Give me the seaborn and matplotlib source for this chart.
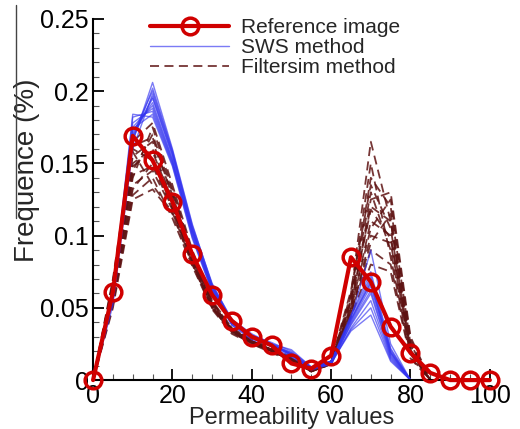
import numpy as np
import pandas as pd
import matplotlib
matplotlib.use("Agg")
import matplotlib.pyplot as plt
from matplotlib.lines import Line2D
from matplotlib.ticker import MultipleLocator
import seaborn as sns

# ---------------- data ----------------
x_vals = [0, 5, 10, 15, 20, 25, 30, 35, 40, 45, 50, 55, 60, 65, 70, 75, 80, 85, 90, 95, 100]

reference = [0, 0.061, 0.169, 0.152, 0.1235, 0.087, 0.059, 0.041, 0.030, 0.024,
             0.0115, 0.008, 0.017, 0.085, 0.068, 0.037, 0.019, 0.005, 0, 0, 0]

# SWS realisations (x = 0..80)
sws_runs = [
    [0, 0.058, 0.165, 0.206, 0.160, 0.108, 0.066, 0.040, 0.030, 0.024, 0.018, 0.008, 0.012, 0.042, 0.070, 0.020, 0],
    [0, 0.060, 0.170, 0.200, 0.158, 0.105, 0.064, 0.040, 0.031, 0.025, 0.017, 0.009, 0.013, 0.045, 0.075, 0.022, 0],
    [0, 0.055, 0.168, 0.195, 0.155, 0.103, 0.063, 0.038, 0.029, 0.024, 0.019, 0.008, 0.011, 0.040, 0.065, 0.018, 0],
    [0, 0.062, 0.175, 0.190, 0.152, 0.100, 0.062, 0.039, 0.030, 0.023, 0.016, 0.008, 0.012, 0.043, 0.090, 0.025, 0],
    [0, 0.057, 0.182, 0.186, 0.150, 0.102, 0.065, 0.041, 0.031, 0.026, 0.020, 0.009, 0.013, 0.038, 0.060, 0.016, 0],
    [0, 0.060, 0.184, 0.182, 0.148, 0.098, 0.061, 0.038, 0.028, 0.024, 0.018, 0.007, 0.011, 0.036, 0.055, 0.015, 0],
    [0, 0.052, 0.160, 0.198, 0.157, 0.106, 0.066, 0.042, 0.032, 0.025, 0.017, 0.008, 0.012, 0.035, 0.050, 0.014, 0],
    [0, 0.058, 0.172, 0.192, 0.153, 0.101, 0.063, 0.039, 0.030, 0.024, 0.018, 0.008, 0.012, 0.034, 0.045, 0.013, 0],
    [0, 0.061, 0.178, 0.188, 0.151, 0.104, 0.064, 0.040, 0.029, 0.025, 0.021, 0.009, 0.013, 0.041, 0.068, 0.019, 0],
    [0, 0.056, 0.166, 0.202, 0.159, 0.107, 0.067, 0.041, 0.031, 0.025, 0.018, 0.008, 0.012, 0.044, 0.072, 0.021, 0],
    [0, 0.059, 0.174, 0.184, 0.149, 0.099, 0.062, 0.039, 0.030, 0.024, 0.017, 0.008, 0.011, 0.039, 0.062, 0.017, 0],
    [0, 0.057, 0.169, 0.196, 0.156, 0.104, 0.065, 0.040, 0.030, 0.025, 0.019, 0.009, 0.013, 0.042, 0.067, 0.019, 0],
]

# Filtersim realisations (x = 0..85)
filtersim_runs = [
    [0, 0.050, 0.125, 0.132, 0.115, 0.080, 0.050, 0.033, 0.026, 0.020, 0.014, 0.006, 0.012, 0.060, 0.165, 0.110, 0.020, 0],
    [0, 0.065, 0.150, 0.160, 0.125, 0.085, 0.052, 0.035, 0.027, 0.021, 0.015, 0.007, 0.012, 0.055, 0.140, 0.120, 0.025, 0],
    [0, 0.070, 0.165, 0.178, 0.135, 0.090, 0.055, 0.036, 0.028, 0.022, 0.016, 0.007, 0.013, 0.050, 0.125, 0.130, 0.030, 0],
    [0, 0.055, 0.135, 0.145, 0.118, 0.082, 0.050, 0.034, 0.026, 0.020, 0.014, 0.006, 0.011, 0.048, 0.110, 0.100, 0.022, 0],
    [0, 0.060, 0.145, 0.170, 0.130, 0.087, 0.054, 0.036, 0.027, 0.021, 0.015, 0.007, 0.012, 0.045, 0.100, 0.095, 0.020, 0],
    [0, 0.068, 0.160, 0.152, 0.120, 0.083, 0.051, 0.034, 0.026, 0.020, 0.014, 0.006, 0.012, 0.058, 0.150, 0.085, 0.018, 0],
    [0, 0.052, 0.128, 0.140, 0.112, 0.079, 0.049, 0.032, 0.025, 0.019, 0.013, 0.006, 0.011, 0.052, 0.120, 0.110, 0.024, 0],
    [0, 0.063, 0.155, 0.165, 0.128, 0.086, 0.053, 0.035, 0.027, 0.021, 0.015, 0.007, 0.012, 0.046, 0.090, 0.080, 0.016, 0],
    [0, 0.058, 0.140, 0.175, 0.132, 0.088, 0.054, 0.035, 0.027, 0.021, 0.015, 0.007, 0.013, 0.062, 0.135, 0.105, 0.021, 0],
    [0, 0.066, 0.158, 0.135, 0.116, 0.081, 0.050, 0.033, 0.025, 0.020, 0.014, 0.006, 0.011, 0.044, 0.080, 0.075, 0.015, 0],
    [0, 0.061, 0.148, 0.158, 0.124, 0.084, 0.052, 0.034, 0.026, 0.020, 0.014, 0.006, 0.012, 0.050, 0.105, 0.125, 0.028, 0],
    [0, 0.054, 0.132, 0.150, 0.121, 0.083, 0.051, 0.034, 0.026, 0.020, 0.014, 0.007, 0.012, 0.056, 0.130, 0.090, 0.019, 0],
    [0, 0.067, 0.162, 0.168, 0.127, 0.086, 0.053, 0.035, 0.027, 0.021, 0.015, 0.007, 0.013, 0.047, 0.095, 0.115, 0.026, 0],
    [0, 0.059, 0.142, 0.148, 0.119, 0.082, 0.051, 0.033, 0.026, 0.020, 0.014, 0.006, 0.012, 0.054, 0.118, 0.098, 0.020, 0],
]

x_ticks = [0, 20, 40, 60, 80, 100]
y_ticks = [0, 0.05, 0.1, 0.15, 0.2, 0.25]
y_tick_labels = ["0", "0.05", "0.1", "0.15", "0.2", "0.25"]

# ---------------- long-form tables ----------------
def to_long(runs):
    rows = []
    for i, r in enumerate(runs):
        for xv, yv in zip(x_vals, r):
            rows.append({"x": xv, "y": yv, "run": i})
    return pd.DataFrame(rows)

df_sws = to_long(sws_runs)
df_fs = to_long(filtersim_runs)
df_ref = pd.DataFrame({"x": x_vals, "y": reference})

# ---------------- plot ----------------
sns.set_theme(style="white")
plt.rcParams["font.family"] = ["Liberation Sans", "DejaVu Sans"]

fig = plt.figure(figsize=(5.2, 4.29), dpi=100)
ax = fig.add_axes([0.179, 0.114, 0.763, 0.842])

red = "#d00000"
blue = "#3434f0"
brown = "#5e1212"

sns.lineplot(data=df_fs, x="x", y="y", units="run", estimator=None, ax=ax,
             color=brown, lw=1.3, alpha=0.85, linestyle=(0, (5, 3)))
sns.lineplot(data=df_sws, x="x", y="y", units="run", estimator=None, ax=ax,
             color=blue, lw=1.0, alpha=0.65)
sns.lineplot(data=df_ref, x="x", y="y", ax=ax, color=red, lw=3,
             marker="o", markersize=12, markerfacecolor="none",
             markeredgecolor=red, markeredgewidth=2.5, clip_on=False, zorder=5)

ax.set_xlim(0, 100)
ax.set_ylim(0, 0.25)
ax.set_xticks(x_ticks)
ax.set_yticks(y_ticks)
ax.set_yticklabels(y_tick_labels)
ax.xaxis.set_minor_locator(MultipleLocator(5))
ax.yaxis.set_minor_locator(MultipleLocator(0.01))
ax.tick_params(which="major", direction="in", length=8, width=1.3,
               labelsize=18, colors="black", pad=3)
ax.tick_params(which="minor", direction="in", length=4, width=0.8, colors="#555555")
ax.tick_params(axis="x", which="both", bottom=True)
ax.tick_params(axis="y", which="both", left=True)

for s in ["top", "right"]:
    ax.spines[s].set_visible(False)
for s in ["left", "bottom"]:
    ax.spines[s].set_color("black")
    ax.spines[s].set_linewidth(1.5)

ax.set_xlabel("Permeability values", fontsize=17, labelpad=-1)
ax.set_ylabel("Frequence (%)", fontsize=20)
ax.yaxis.set_label_coords(-0.135, 0.58)

handles = [
    Line2D([], [], color=red, lw=3, marker="o", markersize=12,
           markerfacecolor="none", markeredgewidth=2.5),
    Line2D([], [], color=blue, lw=1.0, alpha=0.65),
    Line2D([], [], color=brown, lw=1.3, alpha=0.85, linestyle=(0, (5, 3))),
]
ax.legend(handles, ["Reference image", "SWS method", "Filtersim method"],
          loc="upper left", bbox_to_anchor=(150 / 520, 1 - 18 / 429),
          bbox_transform=fig.transFigure, frameon=False, fontsize=15,
          handlelength=3.8, handletextpad=0.55, labelspacing=0.05,
          borderaxespad=0, borderpad=0)

# thin vertical artifact line at left edge
fig.add_artist(Line2D([16 / 520, 16 / 520], [1 - 5 / 429, 1 - 218 / 429],
                      transform=fig.transFigure, color="#444444", lw=1))

fig.savefig("out.png", dpi=100)
